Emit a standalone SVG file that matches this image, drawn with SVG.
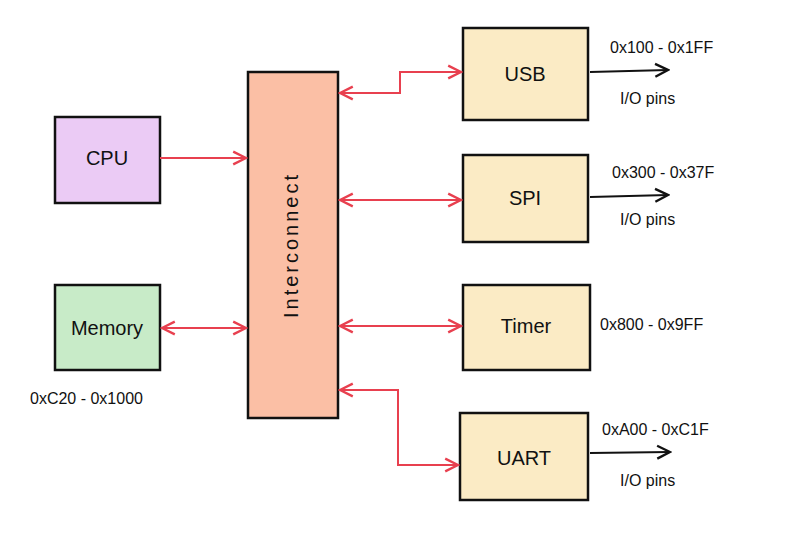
<svg xmlns="http://www.w3.org/2000/svg" width="800" height="535" viewBox="0 0 800 535">
<defs>
<marker id="r" viewBox="0 0 10 10" refX="9" refY="5" markerWidth="8" markerHeight="8" orient="auto-start-reverse"><path d="M1,1 L9,5 L1,9" fill="none" stroke="#E8404F" stroke-width="1.5"/></marker>
<marker id="k" viewBox="0 0 10 10" refX="9" refY="5" markerWidth="8" markerHeight="8" orient="auto-start-reverse"><path d="M1,1 L9,5 L1,9" fill="none" stroke="#111" stroke-width="1.5"/></marker>
<style>
.b{stroke:#111;stroke-width:2.5}
.t{font-family:"Liberation Sans",sans-serif;font-size:20px;fill:#111;text-anchor:middle;dominant-baseline:middle}
.s{font-family:"Liberation Sans",sans-serif;font-size:16px;fill:#111}
.r{fill:none;stroke:#E8404F;stroke-width:2}
.k{fill:none;stroke:#111;stroke-width:2}
</style>
</defs>
<rect width="800" height="535" fill="#fff"/>
<g id="cpu"><rect class="b" x="55" y="117" width="105" height="86" fill="#EBCBF5"/><text class="t" x="107" y="160">CPU</text></g>
<g id="memory"><rect class="b" x="55" y="285" width="105" height="85" fill="#C8EBC8"/><text class="t" x="107" y="330" font-size="18">Memory</text></g>
<g id="interconnect"><rect class="b" x="248" y="72" width="90" height="346" fill="#FBBFA5"/><text class="t" transform="translate(293,245) rotate(-90)" font-size="24" letter-spacing="3">Interconnect</text></g>
<g id="usb"><rect class="b" x="463" y="28" width="125" height="92" fill="#FBEBC5"/><text class="t" x="525" y="76">USB</text></g>
<g id="spi"><rect class="b" x="463" y="155" width="125" height="87" fill="#FBEBC5"/><text class="t" x="525" y="200">SPI</text></g>
<g id="timer"><rect class="b" x="463" y="285" width="127" height="85" fill="#FBEBC5"/><text class="t" x="526" y="328">Timer</text></g>
<g id="uart"><rect class="b" x="460" y="413" width="128" height="87" fill="#FBEBC5"/><text class="t" x="524" y="460">UART</text></g>
<g id="connectors">
<path class="r" d="M160,158 L246,158" marker-end="url(#r)"/>
<path class="r" d="M162,328 L246,328" marker-start="url(#r)" marker-end="url(#r)"/>
<path class="r" d="M340,93 L400,93 L400,72 L461,72" marker-start="url(#r)" marker-end="url(#r)"/>
<path class="r" d="M340,200 L461,200" marker-start="url(#r)" marker-end="url(#r)"/>
<path class="r" d="M340,326 L461,326" marker-start="url(#r)" marker-end="url(#r)"/>
<path class="r" d="M340,390 L398,390 L398,465 L458,465" marker-start="url(#r)" marker-end="url(#r)"/>
<path class="k" d="M590,72 L668,70" marker-end="url(#k)"/>
<path class="k" d="M590,197 L668,195" marker-end="url(#k)"/>
<path class="k" d="M590,453 L670,452" marker-end="url(#k)"/>
</g>
<text class="s" x="610" y="53">0x100 - 0x1FF</text>
<text class="s" x="620" y="104">I/O pins</text>
<text class="s" x="612" y="178">0x300 - 0x37F</text>
<text class="s" x="620" y="225">I/O pins</text>
<text class="s" x="600" y="330">0x800 - 0x9FF</text>
<text class="s" x="602" y="435">0xA00 - 0xC1F</text>
<text class="s" x="620" y="486">I/O pins</text>
<text class="s" x="30" y="404">0xC20 - 0x1000</text>
</svg>
